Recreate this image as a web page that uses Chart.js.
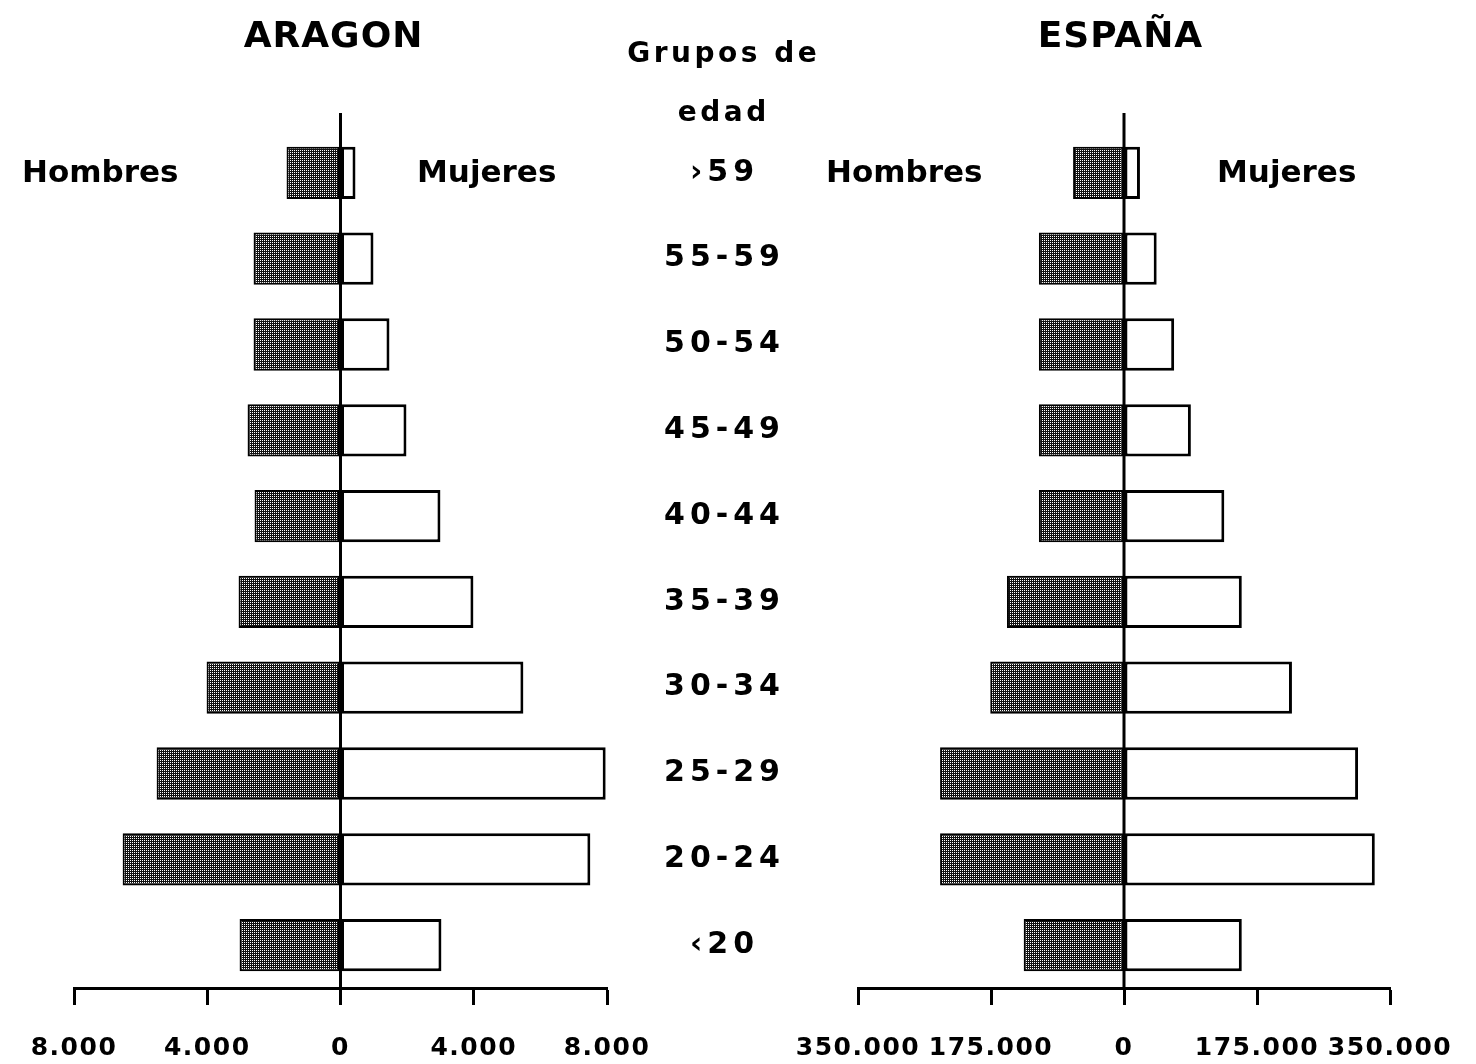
<!DOCTYPE html>
<html><head><meta charset="utf-8">
<script src="https://cdn.jsdelivr.net/npm/chart.js@4"></script>
<style>
html,body{margin:0;padding:0;background:#fff;}
#wrap{position:relative;width:1476px;height:1064px;overflow:hidden;background:#fff;}
.box{position:absolute;top:0;height:1064px;}
#boxA{left:0;width:830px;}
#boxB{left:750px;width:726px;}
</style></head><body>
<div id="wrap">
<div class="box" id="boxA"><canvas id="cA"></canvas></div>
<div class="box" id="boxB"><canvas id="cB"></canvas></div>
</div>
<script>
// ---- data ----
const ageGroups = ['›59','55-59','50-54','45-49','40-44','35-39','30-34','25-29','20-24','‹20'];
const aragonHombres = [1620, 2610, 2610, 2790, 2580, 3060, 4020, 5520, 6540, 3030];
const aragonMujeres = [450, 990, 1470, 1980, 3000, 3990, 5490, 7960, 7500, 3030];
const espanaHombres = [67000, 112000, 112000, 112000, 112000, 154000, 176000, 242000, 242000, 132000];
const espanaMujeres = [21000, 43000, 66000, 88000, 132000, 155000, 221000, 308000, 330000, 155000];
const aragonTicks = [-8000, -4000, 0, 4000, 8000];
const espanaTicks = [-350000, -175000, 0, 175000, 350000];

const FONT = "'DejaVu Sans', 'Liberation Sans', sans-serif";

function fmt(v){
  return Math.abs(v).toString().replace(/\B(?=(\d{3})+(?!\d))/g, '.');
}

// stippled dark fill for "Hombres"
function makePattern(){
  const c = document.createElement('canvas');
  c.width = 2; c.height = 2;
  const g = c.getContext('2d');
  g.fillStyle = '#111'; g.fillRect(0,0,2,2);
  g.fillStyle = '#fff'; g.fillRect(0,0,1,1);
  return g.createPattern(c, 'repeat');
}
const stipple = makePattern();

function drawText(ctx, txt, x, y, size, align, ls, baseline){
  ctx.save();
  ctx.font = 'bold ' + size + 'px ' + FONT;
  ctx.fillStyle = '#000';
  ctx.textAlign = align;
  ctx.textBaseline = baseline || 'alphabetic';
  ctx.letterSpacing = (ls || 0) + 'px';
  const dx = align === 'center' ? (ls || 0) / 2 : 0;
  ctx.fillText(txt, x + dx, y);
  ctx.restore();
}

const spacingPlugin = {
  id: 'spacing',
  beforeDraw(chart){ chart.ctx.letterSpacing = '1.5px'; },
  afterDraw(chart){ chart.ctx.letterSpacing = '0px'; }
};

const zeroLine = {
  id: 'zeroLine',
  afterDatasetsDraw(chart){
    const ctx = chart.ctx, xs = chart.scales.x, a = chart.chartArea;
    const x0 = xs.getPixelForValue(0);
    ctx.save();
    ctx.strokeStyle = '#000';
    ctx.lineWidth = 3;
    ctx.beginPath();
    ctx.moveTo(x0, a.top - 17);
    ctx.lineTo(x0, a.bottom);
    ctx.stroke();
    ctx.restore();
  }
};

function makeChart(id, hombres, mujeres, ticks, pad, texts){
  const lim = ticks[ticks.length - 1];
  return new Chart(document.getElementById(id), {
    type: 'bar',
    data: {
      labels: ageGroups,
      datasets: [
        { label: 'Hombres', data: hombres.map(v => -v), backgroundColor: stipple,
          borderColor: '#000', borderWidth: 2, borderSkipped: false,
          categoryPercentage: 1, barPercentage: 0.61 },
        { label: 'Mujeres', data: mujeres, backgroundColor: '#fff',
          borderColor: '#000', borderWidth: 3, borderSkipped: false,
          categoryPercentage: 1, barPercentage: 0.61 }
      ]
    },
    options: {
      indexAxis: 'y',
      responsive: true,
      maintainAspectRatio: false,
      animation: false,
      devicePixelRatio: 1,
      layout: { padding: pad },
      plugins: { legend: { display: false }, tooltip: { enabled: false }, title: { display: false } },
      scales: {
        y: { stacked: true, display: false },
        x: {
          stacked: true, min: -lim, max: lim,
          afterBuildTicks: s => { s.ticks = ticks.map(v => ({ value: v })); },
          afterFit: s => { s.height = 76; },
          grid: { drawOnChartArea: false, drawTicks: true, tickLength: 17, tickWidth: 3, tickColor: '#000' },
          border: { display: true, color: '#000', width: 3 },
          ticks: { font: { family: FONT, size: 25, weight: 'bold' }, color: '#000', padding: 28,
                   maxRotation: 0, autoSkip: false, callback: v => fmt(v) }
        }
      }
    },
    plugins: [spacingPlugin, zeroLine, { id: 'texts', afterDraw: texts }]
  });
}

makeChart('cA', aragonHombres, aragonMujeres, aragonTicks,
  { left: 74, right: 223, top: 130, bottom: 0 },
  chart => {
    const ctx = chart.ctx, ys = chart.scales.y;
    drawText(ctx, 'ARAGON', 333, 47, 36, 'center', 1);
    drawText(ctx, 'Hombres', 22, 182, 31, 'left', 0);
    drawText(ctx, 'Mujeres', 417, 182, 31, 'left', 0);
    drawText(ctx, 'Grupos de', 722, 62, 28, 'center', 3.5);
    drawText(ctx, 'edad', 722, 121, 28, 'center', 3.5);
    ageGroups.forEach((g, i) => {
      drawText(ctx, g, 722, ys.getPixelForValue(i), 30, 'center', 5, 'middle');
    });
  });

makeChart('cB', espanaHombres, espanaMujeres, espanaTicks,
  { left: 108, right: 86, top: 130, bottom: 0 },
  chart => {
    const ctx = chart.ctx;
    drawText(ctx, 'ESPAÑA', 370, 47, 36, 'center', 1);
    drawText(ctx, 'Hombres', 76, 182, 31, 'left', 0);
    drawText(ctx, 'Mujeres', 467, 182, 31, 'left', 0);
  });
</script>
</body></html>
